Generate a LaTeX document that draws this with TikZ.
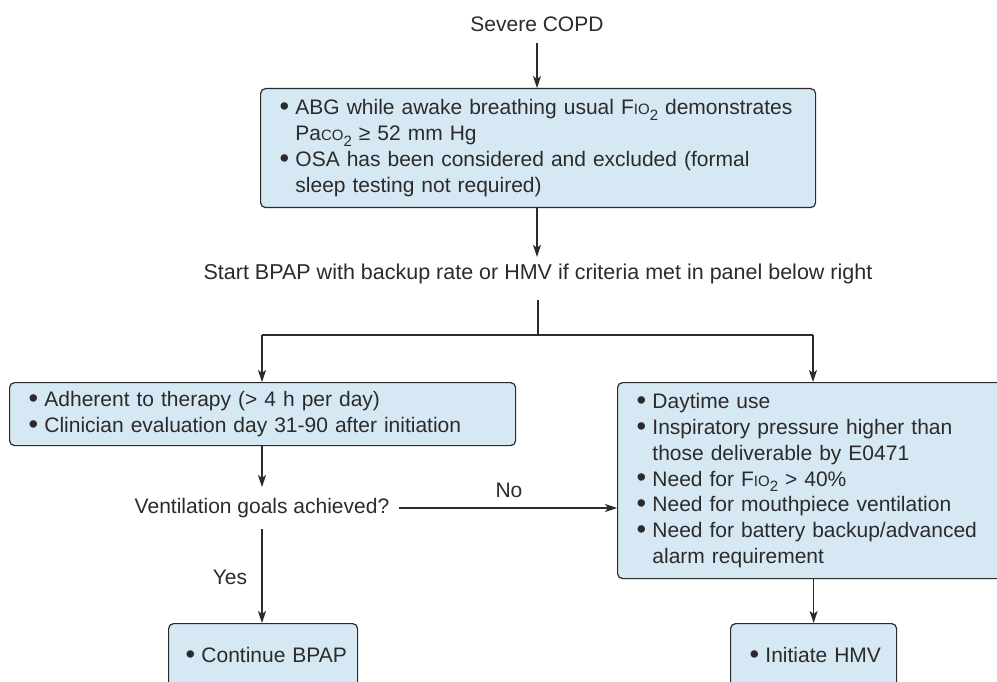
\documentclass[tikz,border=0pt]{standalone}
\usepackage{fontspec}
\setmainfont{Liberation Sans}
\usetikzlibrary{arrows.meta}
\definecolor{boxfill}{HTML}{D6E8F3}
\definecolor{ink}{HTML}{2B2B2B}
\newcommand{\smc}[1]{{\fontsize{15}{15}\selectfont #1}}
\newcommand{\subtwo}{\raisebox{-0.28em}{\fontsize{15}{15}\selectfont 2}}
\newcommand{\bdot}{\makebox[0.42em][l]{\raisebox{-0.03em}{\scalebox{1.3}{\textbullet}}}}
\newcommand{\bul}[1]{\mbox{\bdot\ #1}}
\newcommand{\cnt}[1]{\mbox{\phantom{\bdot\ }#1}}
\tikzset{
  flowbox/.style={draw=ink, fill=boxfill, rounded corners=5pt, line width=1.2pt,
    anchor=north west, align=left, inner xsep=19pt, inner ysep=0pt, text=ink},
  plain/.style={text=ink, inner sep=3pt},
  arr/.style={draw=ink, line width=1.1pt, -{Stealth[length=12pt,width=8pt,inset=3pt]}},
  ln/.style={draw=ink, line width=1.1pt}
}
\begin{document}
\begin{tikzpicture}[x=1pt,y=-1pt,font=\fontsize{21}{25.7}\selectfont]
\clip (0,0) rectangle (997,682);
\fill[white] (0,0) rectangle (997,682);

\node[plain] (copd) at (537,24) {Severe COPD};

\node[flowbox, minimum width=555pt, minimum height=119pt, text width=517pt] (top) at (260,88)
{\bul{ABG while awake breathing usual F\smc{IO}\subtwo\ demonstrates}\\
 \cnt{Pa\smc{CO}\subtwo\ ≥ 52 mm Hg}\\
 \bul{OSA has been considered and excluded (formal}\\
 \cnt{sleep testing not required)}};

\node[plain, inner ysep=7pt] (start) at (538,274)
{\fontsize{21.5}{25.7}\selectfont Start BPAP with backup rate or HMV if criteria met in panel below right};

\coordinate (split) at (538,335);
\coordinate (splitL) at (262,335);
\coordinate (splitR) at (813,335);

\node[flowbox, minimum width=506pt, minimum height=63pt, text width=468pt] (left) at (9,382)
{\bul{Adherent to therapy (> 4 h per day)}\\
 \bul{Clinician evaluation day 31-90 after initiation}};

\node[flowbox, minimum width=400pt, minimum height=196pt, text width=362pt] (right) at (617,382)
{\bul{Daytime use}\\
 \bul{Inspiratory pressure higher than}\\
 \cnt{those deliverable by E0471}\\
 \bul{Need for F\smc{IO}\subtwo\ > 40\%}\\
 \bul{Need for mouthpiece ventilation}\\
 \bul{Need for battery backup/advanced}\\
 \cnt{alarm requirement}};

\node[plain, inner xsep=10pt, inner ysep=11pt] (vent) at (262,508) {Ventilation goals achieved?};
\node[plain] (no) at (509,490) {No};
\node[plain] (yes) at (230,577) {Yes};

\node[flowbox, minimum width=189pt, minimum height=64pt, text width=155pt, inner xsep=17pt] (cont) at (168,623)
{\bul{Continue BPAP}};
\node[flowbox, minimum width=166pt, minimum height=64pt, text width=128pt, inner xsep=19pt] (init) at (730,623)
{\bul{Initiate HMV}};

\draw[arr] (copd.south) ++(0,8) -- (copd.south |- top.north);
\draw[arr] (copd.south |- top.south) -- (copd.south |- start.north);
\draw[ln] (start.south) ++(0,9) -- (split);
\draw[ln] (splitL) -- (splitR);
\draw[arr] (splitL) -- (splitL |- left.north);
\draw[arr] (splitR) -- (splitR |- right.north);
\draw[arr] (vent.north |- left.south) -- (vent.north);
\draw[arr] (vent.east) -- (vent.east -| right.west);
\draw[arr] (vent.south) -- (vent.south |- cont.north);
\draw[arr] (init.north |- right.south) -- (init.north);
\end{tikzpicture}
\end{document}
